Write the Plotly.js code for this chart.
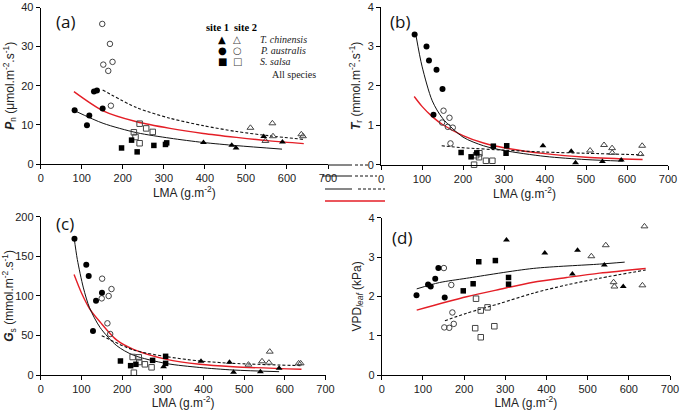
<!DOCTYPE html>
<html>
<head>
<meta charset="utf-8">
<script src="https://cdn.plot.ly/plotly-3.0.1.min.js"></script>
<style>html,body{margin:0;padding:0;background:#fff;}#chart{width:680px;height:410px;}</style>
</head>
<body>
<div id="chart"></div>
<script>
// ---------- Panel (a): Pn vs LMA ----------
const a_tc1_x = [396.6, 465.5, 476, 543.4, 589];
const a_tc1_y = [5.5, 4.8, 4.1, 7.0, 5.6];
const a_tc2_x = [511, 564.5, 547.5, 566, 635, 639];
const a_tc2_y = [9.25, 10.4, 5.9, 7.1, 7.6, 7.1];
const a_pa1_x = [82.7, 112.7, 118.4, 129.8, 137, 150.9];
const a_pa1_y = [13.75, 9.9, 12.4, 18.5, 18.8, 14.2];
const a_pa2_x = [150, 168.7, 152.5, 175, 164.6, 171];
const a_pa2_y = [35.8, 30.7, 25.4, 26.1, 23.8, 14.9];
const a_ss1_x = [197, 221.4, 235, 275.7, 304, 307];
const a_ss1_y = [4.1, 6.1, 3.1, 4.75, 5.0, 5.4];
const a_ss2_x = [227, 231, 241, 241, 257, 273];
const a_ss2_y = [8.1, 6.9, 10.3, 5.3, 9.1, 8.2];
const a_fit1_x = [85, 152, 234, 315, 396, 477, 588];
const a_fit1_y = [13.5, 10.4, 8.0, 6.6, 5.5, 4.7, 3.8];
const a_fit2_x = [151, 234, 315, 396, 477, 558, 639];
const a_fit2_y = [18.9, 14.4, 11.7, 9.8, 8.3, 7.2, 6.3];
const a_fitAll_x = [81, 152, 234, 315, 396, 477, 558, 641];
const a_fitAll_y = [18.5, 13.6, 10.8, 9.1, 7.8, 6.8, 5.9, 5.2];

// ---------- Panel (b): Tr vs LMA ----------
const b_tc1_x = [395, 464, 474.5, 540, 586];
const b_tc1_y = [0.48, 0.34, 0.05, 0.08, 0.12];
const b_tc2_x = [510, 544, 563.6, 564, 637, 633];
const b_tc2_y = [0.36, 0.50, 0.42, 0.30, 0.48, 0.27];
const b_pa1_x = [82, 111, 117, 135.4, 150, 128];
const b_pa1_y = [3.30, 3.0, 2.64, 2.41, 1.92, 1.27];
const b_pa2_x = [152.5, 149, 167, 163, 175, 169.5];
const b_pa2_y = [1.37, 1.07, 1.19, 0.96, 0.94, 0.54];
const b_ss1_x = [195.4, 219.7, 233.6, 274, 306.6, 305];
const b_ss1_y = [0.31, 0.20, 0.30, 0.47, 0.48, 0.29];
const b_ss2_x = [227, 232, 239, 240, 256, 271.6];
const b_ss2_y = [0.0, 0.24, 0.19, 0.29, 0.10, 0.10];
const b_fit1_x = [86, 100, 125, 150, 200, 250, 300, 400, 500, 590];
const b_fit1_y = [3.24, 2.5, 1.62, 1.18, 0.70, 0.48, 0.36, 0.21, 0.13, 0.09];
const b_fit2_x = [148, 200, 300, 400, 500, 638];
const b_fit2_y = [0.48, 0.43, 0.37, 0.32, 0.29, 0.25];
const b_fitAll_x = [81, 100, 125, 150, 200, 250, 300, 400, 500, 638];
const b_fitAll_y = [1.73, 1.48, 1.22, 1.02, 0.74, 0.55, 0.43, 0.28, 0.19, 0.13];

// ---------- Panel (c): Gs vs LMA ----------
const c_tc1_x = [302, 394, 464, 474, 540, 586];
const c_tc1_y = [10.5, 17.3, 16.0, 3.4, 4.2, 8.4];
const c_tc2_x = [510.6, 544, 563, 561, 634, 639];
const c_tc2_y = [13.1, 17.3, 29.5, 15.6, 14.7, 14.7];
const c_pa1_x = [83, 112, 118, 136, 150.6, 128.5];
const c_pa1_y = [172, 139.4, 125, 93.9, 104, 55.6];
const c_pa2_x = [151, 150, 167, 174, 164, 170.8];
const c_pa2_y = [121.7, 96.8, 99.8, 108.6, 65.3, 51.8];
const c_ss1_x = [196, 221, 234, 275, 307, 307];
const c_ss1_y = [17.7, 11.8, 13.5, 18.5, 23.6, 14.7];
const c_ss2_x = [229, 226, 241, 242, 256, 272.5];
const c_ss2_y = [2.9, 22.7, 22.3, 16.4, 13.5, 9.7];
const c_fit1_x = [82, 90, 105, 120, 146, 187, 228, 309, 391, 473, 586];
const c_fit1_y = [174, 146, 110, 85, 60, 37, 25, 14.5, 9.5, 6.3, 4.2];
const c_fit2_x = [150, 228, 309, 391, 473, 641];
const c_fit2_y = [49.7, 31.6, 23.2, 17.7, 14.7, 11.8];
const c_fitAll_x = [82, 100, 120, 146, 187, 228, 309, 391, 473, 641];
const c_fitAll_y = [127, 104, 84, 67, 44, 32.4, 19.8, 13.5, 10.5, 7.2];

// ---------- Panel (d): VPDleaf vs LMA ----------
const d_tc1_x = [303, 396, 475.5, 463, 540.6, 586.5];
const d_tc1_y = [3.43, 3.10, 3.17, 2.57, 2.80, 2.25];
const d_tc2_x = [509, 544, 563, 565, 633, 638];
const d_tc2_y = [3.02, 3.30, 2.36, 2.25, 2.28, 3.78];
const d_pa1_x = [84.5, 112.6, 119, 130, 137.6, 153];
const d_pa1_y = [2.03, 2.30, 2.25, 2.45, 2.72, 1.97];
const d_pa2_x = [151, 169, 171.6, 152, 164, 175];
const d_pa2_y = [2.72, 2.29, 1.59, 1.21, 1.20, 1.30];
const d_ss1_x = [198, 222, 235.7, 276, 308, 308];
const d_ss1_y = [2.14, 2.32, 2.88, 2.91, 2.48, 2.31];
const d_ss2_x = [229, 227, 240.5, 240.5, 257, 273.5];
const d_ss2_y = [1.94, 1.19, 1.64, 0.96, 1.72, 1.24];
const d_fit1_x = [85, 140, 206, 368, 529, 590];
const d_fit1_y = [2.19, 2.35, 2.46, 2.71, 2.82, 2.87];
const d_fit2_x = [153.5, 206, 287, 368, 449, 529, 641];
const d_fit2_y = [1.38, 1.57, 1.82, 2.08, 2.29, 2.46, 2.67];
const d_fitAll_x = [85, 206, 287, 368, 449, 529, 641];
const d_fitAll_y = [1.65, 1.99, 2.18, 2.36, 2.48, 2.59, 2.71];

// ---------- labels ----------
const xTitle = 'LMA (g.m<sup>-2</sup>)';
const yTitles = [
  '<b><i>P</i></b><sub>n</sub> (μmol.m<sup>-2</sup>.s<sup>-1</sup>)',
  '<b><i>T</i></b><sub>r</sub> (mmol.m<sup>-2</sup>.s<sup>-1</sup>)',
  '<b><i>G</i></b><sub>s</sub> (mmol.m<sup>-2</sup>.s<sup>-1</sup>)',
  'VPD<sub><i>leaf</i></sub> (kPa)'
];
const panelLabels = ['(a)', '(b)', '(c)', '(d)'];
const siteLabels = ['site 1', 'site 2'];
const speciesLabels = ['T. chinensis', 'P. australis', 'S. salsa', 'All species'];

// ---------- build traces ----------
const panels = [
  {xa:'x', ya:'y', d:{tc1:[a_tc1_x,a_tc1_y],tc2:[a_tc2_x,a_tc2_y],pa1:[a_pa1_x,a_pa1_y],pa2:[a_pa2_x,a_pa2_y],ss1:[a_ss1_x,a_ss1_y],ss2:[a_ss2_x,a_ss2_y],f1:[a_fit1_x,a_fit1_y],f2:[a_fit2_x,a_fit2_y],fa:[a_fitAll_x,a_fitAll_y]}},
  {xa:'x2', ya:'y2', d:{tc1:[b_tc1_x,b_tc1_y],tc2:[b_tc2_x,b_tc2_y],pa1:[b_pa1_x,b_pa1_y],pa2:[b_pa2_x,b_pa2_y],ss1:[b_ss1_x,b_ss1_y],ss2:[b_ss2_x,b_ss2_y],f1:[b_fit1_x,b_fit1_y],f2:[b_fit2_x,b_fit2_y],fa:[b_fitAll_x,b_fitAll_y]}},
  {xa:'x3', ya:'y3', d:{tc1:[c_tc1_x,c_tc1_y],tc2:[c_tc2_x,c_tc2_y],pa1:[c_pa1_x,c_pa1_y],pa2:[c_pa2_x,c_pa2_y],ss1:[c_ss1_x,c_ss1_y],ss2:[c_ss2_x,c_ss2_y],f1:[c_fit1_x,c_fit1_y],f2:[c_fit2_x,c_fit2_y],fa:[c_fitAll_x,c_fitAll_y]}},
  {xa:'x4', ya:'y4', d:{tc1:[d_tc1_x,d_tc1_y],tc2:[d_tc2_x,d_tc2_y],pa1:[d_pa1_x,d_pa1_y],pa2:[d_pa2_x,d_pa2_y],ss1:[d_ss1_x,d_ss1_y],ss2:[d_ss2_x,d_ss2_y],f1:[d_fit1_x,d_fit1_y],f2:[d_fit2_x,d_fit2_y],fa:[d_fitAll_x,d_fitAll_y]}}
];
const markerStyle = {
  tc1:{symbol:'triangle-up', size:6, color:'#000'},
  pa1:{symbol:'circle', size:6, color:'#000'},
  ss1:{symbol:'square', size:5.5, color:'#000'},
  tc2:{symbol:'triangle-up-open', size:6, color:'#444', line:{width:1}},
  pa2:{symbol:'circle-open', size:5.5, color:'#444', line:{width:1}},
  ss2:{symbol:'square-open', size:5.5, color:'#444', line:{width:1}}
};
const lineStyle = {
  f1:{color:'#111', width:1},
  f2:{color:'#111', width:1.1, dash:'3px,2px'},
  fa:{color:'#e41e26', width:1.4}
};
const traces = [];
panels.forEach(p => {
  ['fa','f1','f2'].forEach(k => {
    traces.push({type:'scatter', mode:'lines', x:p.d[k][0], y:p.d[k][1], xaxis:p.xa, yaxis:p.ya,
      line:Object.assign({shape:'spline', smoothing:0.8}, lineStyle[k]), hoverinfo:'skip', cliponaxis:false});
  });
  ['ss2','pa2','tc2','ss1','pa1','tc1'].forEach(k => {
    traces.push({type:'scatter', mode:'markers', x:p.d[k][0], y:p.d[k][1], xaxis:p.xa, yaxis:p.ya,
      marker:markerStyle[k], cliponaxis:false});
  });
});

// ---------- layout ----------
const W = 680, H = 410;
const px = v => v / W, py = v => 1 - v / H;
const sans = 'Liberation Sans, Arial, sans-serif';
const axBase = {showline:true, linecolor:'#000', linewidth:1, ticks:'outside', ticklen:4, tickwidth:1,
  tickcolor:'#000', showgrid:false, zeroline:false, automargin:false, fixedrange:true,
  tickfont:{family:sans, size:11, color:'#222'}};
const xAx = (dom, anchor) => Object.assign({}, axBase, {domain:dom, anchor:anchor, range:[0,700], dtick:100, tick0:0,
  title:{text:xTitle, standoff:5, font:{family:sans, size:12, color:'#222'}}});
const yAx = (dom, anchor, rng, dt, t) => Object.assign({}, axBase, {domain:dom, anchor:anchor, range:rng, dtick:dt, tick0:0,
  title:{text:t, standoff:4, font:{family:sans, size:12, color:'#222'}}});

const annotations = [];
const labPos = [[65,21],[400,21],[65,223],[402,238]];
panelLabels.forEach((t,i) => annotations.push({text:t, x:px(labPos[i][0]), y:py(labPos[i][1]), xref:'paper', yref:'paper',
  showarrow:false, xanchor:'center', yanchor:'middle', font:{family:'Open Sans, sans-serif', size:17, color:'#111'}}));
// legend texts
const serif = 'Liberation Serif, Times New Roman, serif';
annotations.push({text:'<b>'+siteLabels[0]+'</b>', x:px(204), y:py(19.5), xref:'paper', yref:'paper', xanchor:'left', showarrow:false, font:{family:serif, size:10.5, color:'#000'}});
annotations.push({text:'<b>'+siteLabels[1]+'</b>', x:px(232), y:py(19.5), xref:'paper', yref:'paper', xanchor:'left', showarrow:false, font:{family:serif, size:10.5, color:'#000'}});
const symRows = [['▲','△',32],['●','○',43],['■','□',53.5]];
symRows.forEach(r => {
  annotations.push({text:r[0], x:px(216), y:py(r[2]), xref:'paper', yref:'paper', showarrow:false, font:{family:'DejaVu Sans', size:10, color:'#000'}});
  annotations.push({text:r[1], x:px(237), y:py(r[2]), xref:'paper', yref:'paper', showarrow:false, font:{family:'DejaVu Sans', size:10, color:'#444'}});
});
[[0,258,32],[1,258,43],[2,258,53.5]].forEach(s => annotations.push({text:'<i>'+speciesLabels[s[0]]+'</i>', x:px(s[1]), y:py(s[2]),
  xref:'paper', yref:'paper', showarrow:false, xanchor:'left', font:{family:serif, size:10, color:'#222'}}));
annotations.push({text:speciesLabels[3], x:px(269.5), y:py(66.5), xref:'paper', yref:'paper', showarrow:false, xanchor:'left', font:{family:serif, size:10, color:'#222'}});

// legend line stubs (cut-off line legend between panels)
const shapes = [];
const stub = (x0,x1,y,col,dash,w) => shapes.push({type:'line', xref:'paper', yref:'paper', x0:px(x0), x1:px(x1), y0:py(y), y1:py(y), line:{color:col, width:w||1, dash:dash||'solid'}});
stub(328,352,165,'#111'); stub(355,368,165,'#111','3px,2px');
stub(322,352,176,'#111'); stub(355,377,176,'#111','3px,2px');
stub(325,352,189,'#111'); stub(358,385,189,'#111','3px,2px');
stub(325,385,201,'#e41e26',null,1.4);

const layout = {
  width:W, height:H, margin:{l:0,r:0,t:0,b:0,pad:0}, showlegend:false,
  paper_bgcolor:'#fff', plot_bgcolor:'#fff',
  font:{family:sans, size:11, color:'#222'},
  xaxis: xAx([px(40.7), px(328)], 'y'),
  yaxis: yAx([py(164), py(7.5)], 'x', [0,40], 10, yTitles[0]),
  xaxis2: xAx([px(381), px(668)], 'y2'),
  yaxis2: yAx([py(164.7), py(7)], 'x2', [0,4], 1, yTitles[1]),
  xaxis3: xAx([px(40.7), px(325.5)], 'y3'),
  yaxis3: yAx([py(375), py(216.7)], 'x3', [0,200], 50, yTitles[2]),
  xaxis4: xAx([px(381.7), px(670)], 'y4'),
  yaxis4: yAx([py(375), py(217.7)], 'x4', [0,4], 1, yTitles[3]),
  annotations: annotations,
  shapes: shapes
};
Plotly.newPlot('chart', traces, layout, {staticPlot:true, displayModeBar:false});
</script>
</body>
</html>
